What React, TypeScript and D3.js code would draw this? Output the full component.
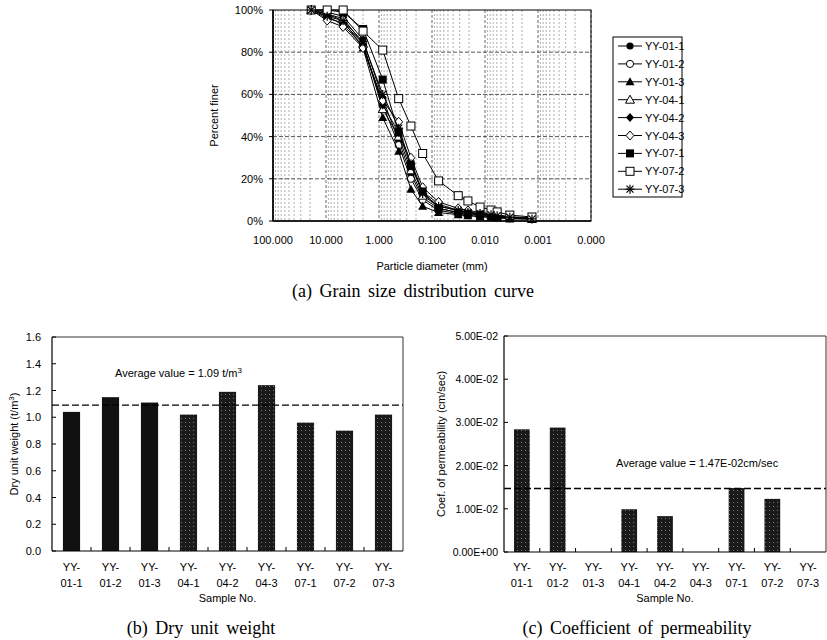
import React from 'react';
import * as d3 from 'd3';

// ---------- data ----------
const sieveSizes = [19, 9.5, 4.75, 2.0, 0.85, 0.425, 0.25, 0.15, 0.075, 0.032, 0.021, 0.0124, 0.0077, 0.0059, 0.0034, 0.0013];
const seriesNames = ['YY-01-1', 'YY-01-2', 'YY-01-3', 'YY-04-1', 'YY-04-2', 'YY-04-3', 'YY-07-1', 'YY-07-2', 'YY-07-3'];
const markerTypes = ['circleF', 'circleO', 'triF', 'triO', 'diaF', 'diaO', 'sqF', 'sqO', 'star'];
const yy011 = [100, 99, 97, 86, 58, 38, 22, 11, 6, 4, 3.5, 3, 2.5, 2, 1.5, 1];
const yy012 = [100, 96, 94, 84, 55, 36, 20, 10, 5, 3.5, 3, 2.5, 2, 1.8, 1.3, 1];
const yy013 = [100, 98, 95, 82, 49, 33, 15, 7, 4, 3, 2.5, 2, 1.8, 1.5, 1, 0.8];
const yy041 = [100, 98, 96, 84, 53, 40, 24, 12, 7, 5, 4, 3.5, 3, 2.5, 1.8, 1];
const yy042 = [100, 97, 93, 83, 55, 42, 28, 14, 8, 5, 4, 3.5, 3, 2.5, 1.8, 1];
const yy043 = [100, 95, 92, 82, 57, 47, 30, 16, 9, 6, 5, 4, 3.5, 3, 2, 1.5];
const yy071 = [100, 100, 99, 91, 67, 42, 26, 14, 6, 4, 3.5, 3, 2.5, 2, 1.5, 1];
const yy072 = [100, 100, 100, 90, 81, 58, 45, 32, 19, 12, 9.5, 6.6, 5.2, 4.3, 2.8, 1.9];
const yy073 = [100, 97, 95, 85, 60, 44, 27, 13, 7, 5, 4, 3.5, 3, 2.5, 1.8, 1];
const gradation = [yy011, yy012, yy013, yy041, yy042, yy043, yy071, yy072, yy073];

const xTickValues = [100, 10, 1, 0.1, 0.01, 0.001, 0.0001];
const xTickLabels = ['100.000', '10.000', '1.000', '0.100', '0.010', '0.001', '0.000'];
const pctTicks = [0, 20, 40, 60, 80, 100];

const samples = ['01-1', '01-2', '01-3', '04-1', '04-2', '04-3', '07-1', '07-2', '07-3'];
const dryUnitWeight = [1.04, 1.15, 1.11, 1.02, 1.19, 1.24, 0.96, 0.90, 1.02];
const dryAvg = 1.09;
const dryTicks = [0, 0.2, 0.4, 0.6, 0.8, 1.0, 1.2, 1.4, 1.6];
const permeability = [0.0284, 0.0288, null, 0.0099, 0.0083, null, 0.0148, 0.0123, null];
const permAvg = 0.0147;
const permTicks = [0, 0.01, 0.02, 0.03, 0.04, 0.05];
const permTickLabels = ['0.00E+00', '1.00E-02', '2.00E-02', '3.00E-02', '4.00E-02', '5.00E-02'];

const SANS = 'Arial, "Liberation Sans", sans-serif';
const SERIF = '"Liberation Serif", "Times New Roman", serif';

function Marker({ type, x, y }: { type: string; x: number; y: number }) {
  const s = 'black';
  switch (type) {
    case 'circleF':
      return <circle cx={x} cy={y} r={3.6} fill={s} />;
    case 'circleO':
      return <circle cx={x} cy={y} r={3.6} fill="white" stroke={s} strokeWidth={1} />;
    case 'triF':
      return <path d={`M${x},${y - 4.5}L${x + 4.5},${y + 3.5}L${x - 4.5},${y + 3.5}Z`} fill={s} />;
    case 'triO':
      return <path d={`M${x},${y - 4.5}L${x + 4.5},${y + 3.5}L${x - 4.5},${y + 3.5}Z`} fill="white" stroke={s} strokeWidth={1} />;
    case 'diaF':
      return <path d={`M${x},${y - 4.5}L${x + 4},${y}L${x},${y + 4.5}L${x - 4},${y}Z`} fill={s} />;
    case 'diaO':
      return <path d={`M${x},${y - 4.5}L${x + 4},${y}L${x},${y + 4.5}L${x - 4},${y}Z`} fill="white" stroke={s} strokeWidth={1} />;
    case 'sqF':
      return <rect x={x - 4} y={y - 4} width={8} height={8} fill={s} />;
    case 'sqO':
      return <rect x={x - 4} y={y - 4} width={8} height={8} fill="white" stroke={s} strokeWidth={1} />;
    case 'star':
      return (
        <g stroke={s} strokeWidth={1.2}>
          <line x1={x - 4.5} y1={y} x2={x + 4.5} y2={y} />
          <line x1={x} y1={y - 4.5} x2={x} y2={y + 4.5} />
          <line x1={x - 3.5} y1={y - 3.5} x2={x + 3.5} y2={y + 3.5} />
          <line x1={x - 3.5} y1={y + 3.5} x2={x + 3.5} y2={y - 3.5} />
        </g>
      );
    default:
      return null;
  }
}

function GrainChart() {
  const L = 273, R = 591, T = 10, B = 221;
  const x = d3.scaleLog().domain([100, 0.0001]).range([L, R]);
  const y = d3.scaleLinear().domain([0, 100]).range([B, T]);
  const line = d3.line<[number, number]>().x(d => x(d[0])).y(d => y(d[1]));
  const minor: number[] = [];
  for (let e = -4; e <= 1; e++) for (let k = 2; k <= 9; k++) minor.push(k * Math.pow(10, e));
  return (
    <g>
      {minor.map((v, i) => (
        <line key={'mn' + i} x1={x(v)} x2={x(v)} y1={T} y2={B} stroke="#999" strokeWidth={0.8} strokeDasharray="2,2" />
      ))}
      {xTickValues.map((v, i) => (
        <line key={'mj' + i} x1={x(v)} x2={x(v)} y1={T} y2={B} stroke="#555" strokeWidth={0.9} strokeDasharray="3,2" />
      ))}
      {pctTicks.filter(v => v > 0 && v < 100).map(v => (
        <line key={'h' + v} x1={L} x2={R} y1={y(v)} y2={y(v)} stroke="#444" strokeWidth={0.9} strokeDasharray="4,2" />
      ))}
      <rect x={L} y={T} width={R - L} height={B - T} fill="none" stroke="#000" strokeWidth={1} />
      <line x1={L} x2={R} y1={B} y2={B} stroke="#000" strokeWidth={1.5} />
      <line x1={L} x2={L} y1={T} y2={B} stroke="#000" strokeWidth={1.5} />
      {pctTicks.map(v => (
        <g key={'yt' + v}>
          <line x1={L - 4} x2={L} y1={y(v)} y2={y(v)} stroke="#000" />
          <text x={L - 10} y={y(v) + 4} textAnchor="end" fontSize={11} fontFamily={SANS}>{v + '%'}</text>
        </g>
      ))}
      {xTickValues.map((v, i) => (
        <text key={'xt' + i} x={x(v)} y={244} textAnchor="middle" fontSize={11} fontFamily={SANS}>{xTickLabels[i]}</text>
      ))}
      <text x={(L + R) / 2} y={270} textAnchor="middle" fontSize={11} fontFamily={SANS}>Particle diameter (mm)</text>
      <text transform={`translate(218,${(T + B) / 2}) rotate(-90)`} textAnchor="middle" fontSize={11} fontFamily={SANS}>Percent finer</text>
      {gradation.map((vals, si) => {
        const pts: [number, number][] = vals.map((v, i) => [sieveSizes[i], v]);
        return (
          <g key={'s' + si}>
            <path d={line(pts) || ''} fill="none" stroke="#000" strokeWidth={1} />
            {pts.map((p, i) => (
              <Marker key={i} type={markerTypes[si]} x={x(p[0])} y={y(p[1])} />
            ))}
          </g>
        );
      })}
      {/* legend */}
      <rect x={613} y={37} width={69} height={160} fill="white" stroke="#000" strokeWidth={1} />
      {seriesNames.map((n, i) => {
        const ly = 46 + i * 17.9;
        return (
          <g key={'lg' + i}>
            <line x1={618} x2={642} y1={ly} y2={ly} stroke="#000" strokeWidth={1} />
            <Marker type={markerTypes[i]} x={630} y={ly} />
            <text x={645} y={ly + 4} fontSize={11} fontFamily={SANS}>{n}</text>
          </g>
        );
      })}
      <text x={413} y={297} textAnchor="middle" fontSize={18} fontFamily={SERIF} wordSpacing={3}>(a) Grain size distribution curve</text>
    </g>
  );
}

function BarChart(props: {
  L: number; R: number; T: number; B: number;
  values: (number | null)[]; max: number; ticks: number[]; tickLabels: string[];
  avg: number; avgLabel: React.ReactNode; avgX: number; avgY: number;
  yLabel: React.ReactNode; yLabelX: number; tickLabelX: number; tickFont: number;
  caption: string; captionX: number; solidFirst: number;
}) {
  const { L, R, T, B, values, max, ticks, tickLabels, avg } = props;
  const x = d3.scaleBand<string>().domain(samples).range([L, R]).paddingInner(0.56).paddingOuter(0.28);
  const xb = d3.scaleBand<string>().domain(samples).range([L, R]);
  const y = d3.scaleLinear().domain([0, max]).range([B, T]);
  return (
    <g>
      <line x1={L} x2={R} y1={T} y2={T} stroke="#333" strokeWidth={1} />
      <line x1={R} x2={R} y1={T} y2={B} stroke="#333" strokeWidth={1} />
      {values.map((v, i) => v == null ? null : (
        <rect key={i} x={x(samples[i])} y={y(v)} width={x.bandwidth()} height={B - y(v)}
          fill={i < props.solidFirst ? '#111' : 'url(#stipple)'} />
      ))}
      <line x1={L} x2={R} y1={y(avg)} y2={y(avg)} stroke="#000" strokeWidth={1.3} strokeDasharray="7,3" />
      <line x1={L} x2={L} y1={T} y2={B} stroke="#000" strokeWidth={1.2} />
      <line x1={L} x2={R} y1={B} y2={B} stroke="#000" strokeWidth={1.2} />
      {ticks.map((t, i) => (
        <g key={'t' + i}>
          <line x1={L} x2={L + 4} y1={y(t)} y2={y(t)} stroke="#000" />
          <text x={props.tickLabelX} y={y(t) + 4} textAnchor="end" fontSize={props.tickFont} fontFamily={SANS}>{tickLabels[i]}</text>
        </g>
      ))}
      {samples.map((s, i) => {
        const cx = (xb(s) as number) + xb.bandwidth() / 2;
        return (
          <g key={'x' + i}>
            {i > 0 && <line x1={xb(s)} x2={xb(s)} y1={B} y2={B - 4} stroke="#000" />}
            <text x={cx} y={571} textAnchor="middle" fontSize={11} fontFamily={SANS}>YY-</text>
            <text x={cx} y={587} textAnchor="middle" fontSize={11} fontFamily={SANS}>{s}</text>
          </g>
        );
      })}
      <text x={(L + R) / 2} y={602} textAnchor="middle" fontSize={11} fontFamily={SANS}>Sample No.</text>
      <text x={props.avgX} y={props.avgY} fontSize={11} fontFamily={SANS}>{props.avgLabel}</text>
      <text transform={`translate(${props.yLabelX},${(T + B) / 2}) rotate(-90)`} textAnchor="middle" fontSize={11} fontFamily={SANS}>{props.yLabel}</text>
      <text x={props.captionX} y={634} textAnchor="middle" fontSize={18} fontFamily={SERIF} wordSpacing={3}>{props.caption}</text>
    </g>
  );
}

export default function App() {
  return (
    <svg width={827} height={640} style={{ position: 'absolute', left: 0, top: 0, background: 'white' }}>
      <defs>
        <pattern id="stipple" width={4} height={4} patternUnits="userSpaceOnUse">
          <rect width={4} height={4} fill="#1a1a1a" />
          <rect x={1} y={2} width={1} height={1} fill="#777" />
        </pattern>
      </defs>
      <rect width={827} height={640} fill="white" />
      <GrainChart />
      <BarChart L={52} R={403} T={337} B={551} values={dryUnitWeight} max={1.6} ticks={dryTicks}
        tickLabels={dryTicks.map(t => t.toFixed(1))} avg={dryAvg}
        avgLabel={<>Average value = 1.09 t/m<tspan dy={-4} fontSize={8}>3</tspan></>}
        avgX={115} avgY={377}
        yLabel={<>Dry unit weight (t/m<tspan dy={-4} fontSize={8}>3</tspan><tspan dy={4}>)</tspan></>}
        yLabelX={18} tickLabelX={41} tickFont={11}
        caption="(b) Dry unit weight" captionX={201} solidFirst={3} />
      <BarChart L={504} R={826} T={336} B={552} values={permeability} max={0.05} ticks={permTicks}
        tickLabels={permTickLabels} avg={permAvg}
        avgLabel="Average value = 1.47E-02cm/sec"
        avgX={616} avgY={467}
        yLabel="Coef. of permeability (cm/sec)"
        yLabelX={445} tickLabelX={498} tickFont={10.5}
        caption="(c) Coefficient of permeability" captionX={637} solidFirst={0} />
    </svg>
  );
}
